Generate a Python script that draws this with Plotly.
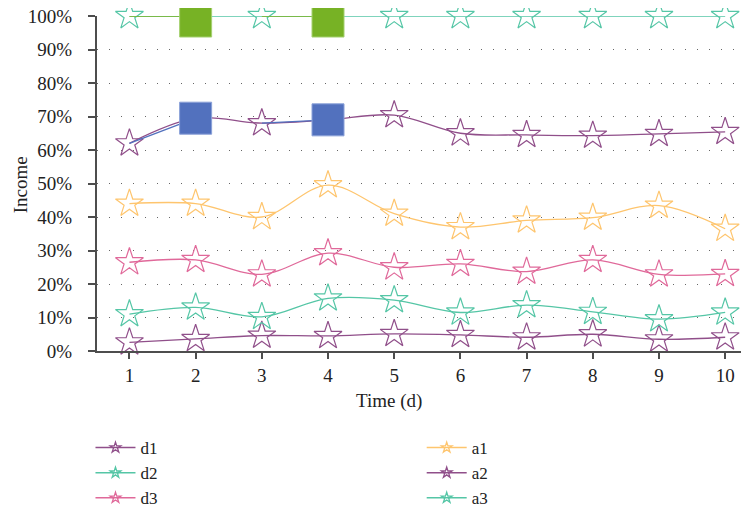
import plotly.graph_objects as go

days = [1, 2, 3, 4, 5, 6, 7, 8, 9, 10]
d1 = [0.62, 0.695, 0.68, 0.69, 0.704, 0.65, 0.645, 0.643, 0.648, 0.654]
d2 = [1.0, 1.0, 1.0, 1.0, 1.0, 1.0, 1.0, 1.0, 1.0, 1.0]
d3 = [0.265, 0.272, 0.229, 0.292, 0.25, 0.26, 0.237, 0.272, 0.229, 0.23]
a1 = [0.44, 0.44, 0.40, 0.495, 0.41, 0.37, 0.39, 0.398, 0.434, 0.365]
a2 = [0.026, 0.036, 0.046, 0.045, 0.051, 0.048, 0.041, 0.05, 0.035, 0.041]
a3 = [0.11, 0.13, 0.102, 0.157, 0.152, 0.115, 0.137, 0.117, 0.095, 0.115]

blue_x = [1, 2, None, 3, 4]
blue_y = [0.62, 0.695, None, 0.68, 0.69]
blue_sq_x = [2, 4]
blue_sq_y = [0.695, 0.69]
green_x = [1, 2, None, 3, 4]
green_y = [1.0, 1.0, None, 1.0, 1.0]
green_sq_x = [2, 4]
green_sq_y = [0.985, 0.985]

PURPLE = "#904f8a"
TEAL = "#55c6a6"
PINK = "#e0699a"
ORANGE = "#fec56e"
BLUE = "#5271be"
GREEN = "#77b225"

FONT = "Liberation Serif"
FS = 19
LFS = 17

fig = go.Figure()

series = [
    ("d1", d1, PURPLE, "legend"),
    ("d2", d2, TEAL, "legend"),
    ("d3", d3, PINK, "legend"),
    ("a1", a1, ORANGE, "legend2"),
    ("a2", a2, PURPLE, "legend2"),
    ("a3", a3, TEAL, "legend2"),
]
for name, ys, col, lg in series:
    fig.add_trace(go.Scatter(
        x=days, y=ys, name=name, mode="lines+markers",
        line=dict(color=col, width=1.3, shape="spline", smoothing=1),
        marker=dict(symbol="star-open", size=21, color=col, line=dict(width=1.2, color=col)),
        showlegend=False, cliponaxis=False,
    ))

fig.add_trace(go.Scatter(x=blue_x, y=blue_y, mode="lines", line=dict(color=BLUE, width=1.3),
                         showlegend=False, cliponaxis=False))
fig.add_trace(go.Scatter(x=blue_sq_x, y=blue_sq_y, mode="markers",
                         marker=dict(symbol="square", size=32, color=BLUE, line=dict(width=1, color="#8aa0d8")),
                         showlegend=False, cliponaxis=False))
fig.add_trace(go.Scatter(x=green_x, y=green_y, mode="lines", line=dict(color=GREEN, width=1.3),
                         showlegend=False, cliponaxis=False))
fig.add_trace(go.Scatter(x=green_sq_x, y=green_sq_y, mode="markers",
                         marker=dict(symbol="square", size=32, color=GREEN, line=dict(width=1, color="#a5d070")),
                         showlegend=False, cliponaxis=False))

# legend entries (small star markers as in the reference legend)
for name, ys, col, lg in series:
    fig.add_trace(go.Scatter(
        x=[None], y=[None], name=name, mode="lines+markers",
        line=dict(color=col, width=1.5),
        marker=dict(symbol="star-open", size=8, color=col, line=dict(width=1.3, color=col)),
        legend=lg, showlegend=True,
    ))

# the page body has an 8px margin, so the figure is sized/offset to compensate
fig.update_layout(
    width=741, height=503,
    margin=dict(l=89, r=0, t=8, b=160, autoexpand=False),
    paper_bgcolor="white", plot_bgcolor="white",
    font=dict(family=FONT, size=FS, color="#222"),
    xaxis=dict(range=[0.51, 10.36], tickmode="array", tickvals=days,
               showgrid=False, zeroline=False, showline=True, linecolor="#4d4d4d", linewidth=2,
               ticks="outside", ticklen=6, tickcolor="#4d4d4d", tickwidth=1.5,
               ticklabeloverflow="allow",
               tickfont=dict(family=FONT, size=FS, color="#222")),
    yaxis=dict(range=[0, 1], tickmode="array", tickvals=[i / 10 for i in range(11)],
               tickformat=".0%", showgrid=True, gridcolor="#666", gridwidth=1, griddash="1px,11px",
               zeroline=False, showline=True, linecolor="#4d4d4d", linewidth=2,
               ticks="outside", ticklen=7, tickcolor="#4d4d4d", tickwidth=1.5,
               ticklabelstandoff=12, ticklabeloverflow="allow",
               tickfont=dict(family=FONT, size=FS, color="#222")),
    legend=dict(x=-0.010, y=-0.236, xanchor="left", yanchor="top", orientation="v",
                font=dict(family=FONT, size=LFS, color="#222"), bgcolor="rgba(0,0,0,0)",
                tracegroupgap=0, itemwidth=40),
    legend2=dict(x=0.498, y=-0.236, xanchor="left", yanchor="top", orientation="v",
                 font=dict(family=FONT, size=LFS, color="#222"), bgcolor="rgba(0,0,0,0)",
                 tracegroupgap=0, itemwidth=40),
    annotations=[
        dict(text="Time (d)", xref="paper", yref="paper", x=0.448, y=-0.149,
             xanchor="center", yanchor="middle", showarrow=False,
             font=dict(family=FONT, size=FS, color="#222")),
        dict(text="Income", xref="paper", yref="paper", x=-0.118, y=0.495,
             xanchor="center", yanchor="middle", showarrow=False, textangle=-90,
             font=dict(family=FONT, size=FS, color="#222")),
    ],
)

fig.write_html("out.html")
